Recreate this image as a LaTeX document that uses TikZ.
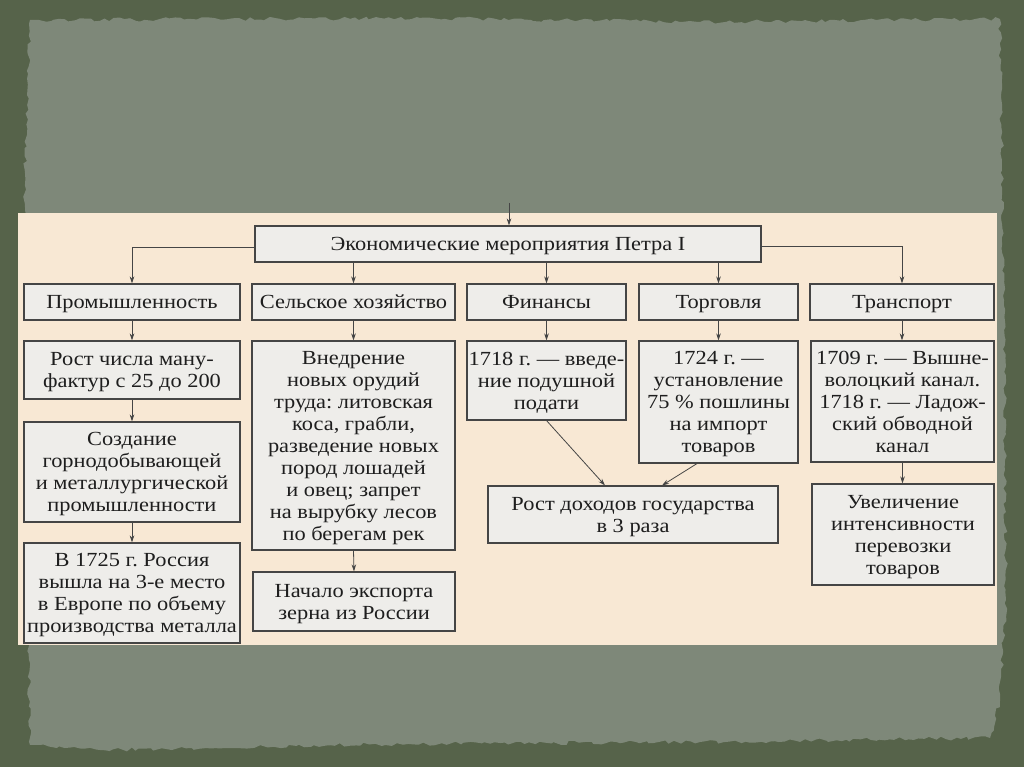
\documentclass[tikz,border=0pt]{standalone}
\usepackage{fontspec}
\setmainfont[FakeStretch=1.12]{Liberation Serif}
\usetikzlibrary{arrows.meta,decorations.pathmorphing}
\frenchspacing
\definecolor{outerg}{HTML}{56634A}
\definecolor{innerg}{HTML}{7E8879}
\definecolor{beige}{HTML}{F8E8D4}
\definecolor{boxf}{HTML}{EEEDEA}
\definecolor{ink}{HTML}{1E1E1E}
\definecolor{linec}{HTML}{454545}
\tikzset{
  box/.style={draw=linec, line width=1.1pt, fill=boxf, inner sep=0pt, align=center,
    text=ink, text depth=0pt, font=\fontsize{20}{22}\selectfont\frenchspacing},
  arr/.style={draw=linec, line width=0.8pt, -{Stealth[length=7pt,width=4.5pt]}},
}
\begin{document}
\begin{tikzpicture}[x=1pt,y=-1pt]
\useasboundingbox (0,0) rectangle (1024,767);
\fill[outerg] (0,0) rectangle (1024,767);
\fill[innerg, decorate, decoration={random steps, segment length=5pt, amplitude=2pt}]
  (30,20) -- (420,18) -- (700,22) -- (1000,19) -- (1004,300) -- (1006,600) -- (1000,700) -- (990,738)
  -- (700,742) -- (400,744) -- (100,750) -- (30,745) -- (26,500) -- (24,200) -- cycle;
\fill[beige] (18,213) rectangle (997,645);
% nodes
\node[box, minimum width=506pt, minimum height=36pt] (top) at (508,244) {Экономические мероприятия Петра I};
\node[box, minimum width=216pt, minimum height=36pt] (prom) at (132,302) {Промышленность};
\node[box, minimum width=203pt, minimum height=36pt] (selsk) at (353.5,302) {Сельское хозяйство};
\node[box, minimum width=159pt, minimum height=36pt] (fin) at (546.5,302) {Финансы};
\node[box, minimum width=159pt, minimum height=36pt] (torg) at (718.5,302) {Торговля};
\node[box, minimum width=184pt, minimum height=36pt] (trans) at (902,302) {Транспорт};
\node[box, minimum width=216pt, minimum height=58pt] (rost) at (132,370) {Рост числа ману-\\фактур с 25 до 200};
\node[box, minimum width=203pt, minimum height=209pt] (vnedr) at (353.5,445.5) {Внедрение\\новых орудий\\труда: литовская\\коса, грабли,\\разведение новых\\пород лошадей\\и овец; запрет\\на вырубку лесов\\по берегам рек};
\node[box, minimum width=159pt, minimum height=79pt] (f1718) at (546.5,380.5) {1718 г. — введе-\\ние подушной\\подати};
\node[box, minimum width=159pt, minimum height=122pt] (t1724) at (718.5,402) {1724 г. —\\установление\\75 \% пошлины\\на импорт\\товаров};
\node[box, minimum width=183pt, minimum height=121pt] (t1709) at (902.5,401.5) {1709 г. — Вышне-\\волоцкий канал.\\1718 г. — Ладож-\\ский обводной\\канал};
\node[box, minimum width=216pt, minimum height=100pt] (sozd) at (132,472) {Создание\\горнодобывающей\\и металлургической\\промышленности};
\node[box, minimum width=216pt, minimum height=100pt] (v1725) at (132,593) {В 1725 г. Россия\\вышла на 3-е место\\в Европе по объему\\производства металла};
\node[box, minimum width=202pt, minimum height=59pt] (nach) at (354,601.5) {Начало экспорта\\зерна из России};
\node[box, minimum width=290pt, minimum height=57pt] (dohod) at (633,514.5) {Рост доходов государства\\в 3 раза};
\node[box, minimum width=182pt, minimum height=101pt] (uvel) at (903,534.5) {Увеличение\\интенсивности\\перевозки\\товаров};
% connectors
\coordinate (in) at (509,203);
\draw[arr] (in) -- (in |- top.north);
\draw[arr] ([yshift=-3pt]top.west) -| (prom.north);
\draw[arr] ([yshift=-2pt]top.east) -| (trans.north);
\draw[arr] (selsk.north |- top.south) -- (selsk.north);
\draw[arr] (fin.north |- top.south) -- (fin.north);
\draw[arr] (torg.north |- top.south) -- (torg.north);
\draw[arr] (prom.south) -- (rost.north);
\draw[arr] (selsk.south) -- (vnedr.north);
\draw[arr] (fin.south) -- (f1718.north);
\draw[arr] (torg.south) -- (t1724.north);
\draw[arr] (trans.south) -- (trans.south |- t1709.north);
\draw[arr] (rost.south) -- (sozd.north);
\draw[arr] (sozd.south) -- (v1725.north);
\draw[arr] (vnedr.south) -- (nach.north);
\draw[arr] (t1709.south) -- (t1709.south |- uvel.north);
\draw[arr] (f1718.south) -- ([xshift=-28pt]dohod.north);
\draw[arr] ([xshift=-21.5pt]t1724.south) -- ([xshift=29pt]dohod.north);
\end{tikzpicture}
\end{document}
